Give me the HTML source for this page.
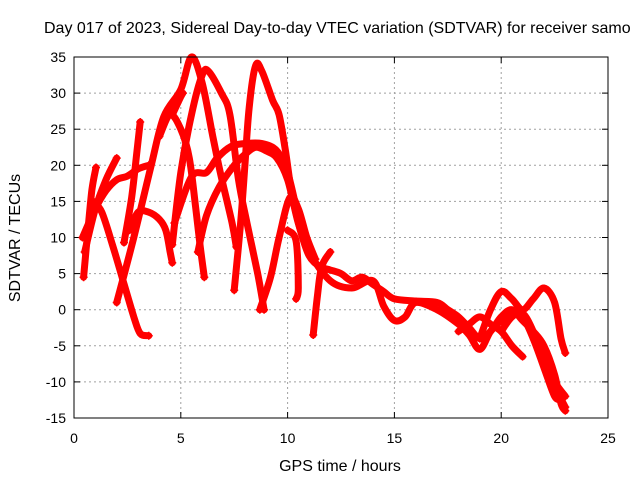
<!DOCTYPE html>
<html><head><meta charset="utf-8"><style>
body{margin:0;background:#fff;}
svg text{font-family:"Liberation Sans",sans-serif;fill:#000;}
</style></head><body>
<svg id="chart" width="640" height="480" viewBox="0 0 640 480" xmlns="http://www.w3.org/2000/svg">
<rect width="640" height="480" fill="#fff"/>
<text x="44" y="33" font-size="16">Day 017 of 2023, Sidereal Day-to-day VTEC variation (SDTVAR) for receiver samo</text>
<g id="grid"></g>
<g id="ticks"></g>
<g id="series"></g>
<rect x="74" y="57" width="534" height="361" fill="none" stroke="#000" stroke-width="1"/>
<text x="340" y="471" font-size="16" text-anchor="middle">GPS time / hours</text>
<text transform="translate(20,238) rotate(-90)" font-size="16" text-anchor="middle">SDTVAR / TECUs</text>
</svg>
<script>
const xTicks=[0,5,10,15,20,25];
const yTicks=[-15,-10,-5,0,5,10,15,20,25,30,35];
const trace1T=[0.45,0.65,0.84,1.03];
const trace1V=[4.5,11,16.6,19.7];
const trace2T=[0.5,1.0,1.5,2.0];
const trace2V=[8,14,18,21];
const trace3T=[0.9,1.3,1.8,2.3,2.8,3.1,3.5];
const trace3V=[15,13.5,9,4,-1,-3.3,-3.6];
const trace4T=[2.0,2.8,3.6,4.2,5.0,5.5,6.0,6.5,6.85,7.4,7.6];
const trace4V=[1,10,19.8,26.7,30.5,35,31.4,24,19,12,8.7];
const trace5T=[2.34,2.7,2.95,3.1];
const trace5V=[9.3,15.6,22,26];
const trace6T=[0.4,1.0,1.5,2.0,2.5,3.0,3.5];
const trace6V=[10,14,16.5,18,18.5,19.5,20];
const trace7T=[2.6,3.0,3.5,4.0,4.3,4.5,4.6];
const trace7V=[11,13.5,13.5,12.5,11,8,6.5];
const trace8T=[4.0,4.5,5.0,5.4,5.7,5.9,6.1];
const trace8V=[24,27,25,21,14,9,4.5];
const trace9T=[4.6,5.0,5.1];
const trace9V=[27,29.5,30];
const trace10T=[4.6,5.0,5.5,6.0,6.3,6.9,7.3,7.7,8.1,8.6,8.9];
const trace10V=[9,19,27,32.5,33,30,27,18,12,5,0];
const trace11T=[7.5,7.8,8.0,8.2,8.5,8.8,9.3,9.6,9.9,10.2,10.6,11.0,11.5,12,12.5,13,13.5,14,14.5,15,16,17,17.5,18,18.5,19,19.5,20,20.5,21,21.5,22,22.5,22.8,23];
const trace11V=[2.7,12,20,28,33.8,33,29,27,22,16,11,7.5,6,5.5,5,4,4.5,3.5,2.5,1.5,1.2,1,0,-1,-2.5,-4,-3,-1,0,-1.5,-3,-5,-9,-13,-14];
const trace12T=[4.7,5.5,6.2,6.7,7.35,8.0,8.8,9.5,10,10.5,11];
const trace12V=[12,18.4,19,21,22.6,23,23,22,19,13,8];
const trace13T=[5.8,6.2,6.8,7.5,8.0,8.5,9.0,9.5,10,10.5,11,12,13,14,14.5,15,15.5,16,17,18,18.5,19,19.5,20,20.5,21,21.5,22,22.5,22.8,23];
const trace13V=[8,13,17,20,21.5,22.5,22,21,18,12,8,4,3,4,0.5,-1.5,-1,1,0,-2,-3.5,-5.5,-3,-1.5,-0.5,-1,-4,-8,-12,-12.5,-13.5];
const trace14T=[8.7,9.2,9.6,10.1,10.5,10.9,11.3];
const trace14V=[0,4.5,10,15.5,14,10,7];
const trace15T=[11.2,11.4,11.6,12.0];
const trace15V=[-3.5,2,6,8];
const trace16T=[10.0,10.4,10.5,10.4];
const trace16V=[11,9.5,3,1.5];
const trace17T=[19,19.5,20,20.5,21,21.5,22,22.5,22.8,23];
const trace17V=[-4,0,2.5,1.5,0,1.5,3,1,-4,-6];
const trace18T=[18,18.5,19,19.5,20,20.5,21];
const trace18V=[-3,-2,-1,-2,-3,-5,-6.5];
const trace19T=[20,20.5,21,21.5,22,22.5,23];
const trace19V=[-3,-1,-0.5,-3,-7,-10,-12];
const traces=[[trace1T,trace1V],[trace2T,trace2V],[trace3T,trace3V],[trace4T,trace4V],[trace5T,trace5V],[trace6T,trace6V],[trace7T,trace7V],[trace8T,trace8V],[trace9T,trace9V],[trace10T,trace10V],[trace11T,trace11V],[trace12T,trace12V],[trace13T,trace13V],[trace14T,trace14V],[trace15T,trace15V],[trace16T,trace16V],[trace17T,trace17V],[trace18T,trace18V],[trace19T,trace19V]];
const NS='http://www.w3.org/2000/svg';
const X0=74,X1=608,Y0=418,Y1=57;
function sx(t){return X0+(t-0)/(25-0)*(X1-X0);}
function sy(v){return Y0-(v+15)/(35+15)*(Y0-Y1);}
const grid=document.getElementById('grid'),ticks=document.getElementById('ticks'),series=document.getElementById('series');
function mk(tag,attrs,parent){const e=document.createElementNS(NS,tag);for(const k in attrs)e.setAttribute(k,attrs[k]);parent.appendChild(e);return e;}
function smoothPath(P){
  let d='M'+P[0][0].toFixed(1)+','+P[0][1].toFixed(1);
  for(let i=0;i<P.length-1;i++){
    const p0=P[Math.max(i-1,0)],p1=P[i],p2=P[i+1],p3=P[Math.min(i+2,P.length-1)];
    const c1x=p1[0]+(p2[0]-p0[0])/6,c1y=p1[1]+(p2[1]-p0[1])/6;
    const c2x=p2[0]-(p3[0]-p1[0])/6,c2y=p2[1]-(p3[1]-p1[1])/6;
    d+=' C'+c1x.toFixed(1)+','+c1y.toFixed(1)+' '+c2x.toFixed(1)+','+c2y.toFixed(1)+' '+p2[0].toFixed(1)+','+p2[1].toFixed(1);
  }
  return d;
}
xTicks.forEach(t=>{
  const x=sx(t);
  if(t>0&&t<25){const g=mk('line',{x1:x,y1:Y1,x2:x,y2:Y0,stroke:'#a0a0a0','stroke-dasharray':'2,3'},grid);
  
  }
  mk('line',{x1:x,y1:Y0,x2:x,y2:Y0-6,stroke:'#000'},ticks);
  mk('line',{x1:x,y1:Y1,x2:x,y2:Y1+6,stroke:'#000'},ticks);
  const l=mk('text',{x:x,y:443,'font-size':'14','text-anchor':'middle'},ticks);
  l.textContent=t;
  
  
});
yTicks.forEach(v=>{
  const y=sy(v);
  if(v>-15&&v<35){const g=mk('line',{x1:X0,y1:y,x2:X1,y2:y,stroke:'#a0a0a0','stroke-dasharray':'2,3'},grid);
  
  }
  mk('line',{x1:X0,y1:y,x2:X0+6,y2:y,stroke:'#000'},ticks);
  mk('line',{x1:X1,y1:y,x2:X1-6,y2:y,stroke:'#000'},ticks);
  const l=mk('text',{x:66,y:y+5,'font-size':'14','text-anchor':'end'},ticks);
  l.textContent=v;
  
  
});
traces.forEach((tr,i)=>{
  const [T,V]=tr;
  const P=T.map((t,j)=>[sx(t),sy(V[j])]);
  const p=mk('path',{d:smoothPath(P),fill:'none',stroke:'#ff0000','stroke-width':'7','stroke-linejoin':'round','stroke-linecap':'round'},series);
  
  
  const a=mk('path',{d:'M'+(P[0][0]-4)+','+P[0][1]+'h8M'+P[0][0]+','+(P[0][1]-4)+'v8',stroke:'#ff0000','stroke-width':'1.5'},series);
  
  
  const n=P.length-1;
  const b=mk('path',{d:'M'+(P[n][0]-4)+','+P[n][1]+'h8M'+P[n][0]+','+(P[n][1]-4)+'v8',stroke:'#ff0000','stroke-width':'1.5'},series);
  
  
});
</script>
</body></html>
